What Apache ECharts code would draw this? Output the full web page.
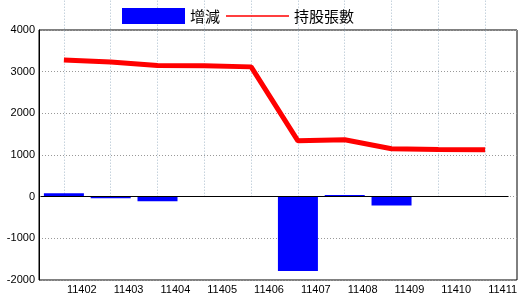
<!DOCTYPE html>
<html>
<head>
<meta charset="utf-8">
<script src="https://cdn.jsdelivr.net/npm/echarts@6/dist/echarts.min.js"></script>
<style>html,body{margin:0;padding:0;background:#fff;}#c{width:520px;height:300px;}</style>
</head>
<body>
<div id="c"></div>
<script>
const categories = ['11402','11403','11404','11405','11406','11407','11408','11409','11410','11411'];
const changeValues = [80, -40, -110, 0, 0, -1785, 40, -210, 0, 0];
const holdingValues = [3280, 3230, 3150, 3140, 3115, 1340, 1365, 1150, 1130, 1125];
const yTicks = { min: -2000, max: 4000, interval: 1000 };
const seriesNames = ['增減', '持股張數'];

const chart = echarts.init(document.getElementById('c'), null, { renderer: 'canvas' });
const fontLatin = 'Liberation Sans, Arial, sans-serif';
const fontCJK = '"Noto Sans CJK TC", "Noto Sans CJK SC", sans-serif';
const thinLineIcon = 'path://M0,0 L0.01,0 L0.01,0.01 Z M0,7.2 L63,7.2 L63,8.8 L0,8.8 Z M63,16 L62.99,16 L62.99,15.99 Z';

chart.setOption({
  animation: false,
  backgroundColor: '#fff',
  legend: {
    left: 122, top: 8, padding: 0,
    itemWidth: 63, itemHeight: 16, itemGap: 6,
    textStyle: { fontSize: 15, fontFamily: fontCJK, color: '#000' },
    data: [
      { name: seriesNames[0], icon: 'rect' },
      { name: seriesNames[1], icon: thinLineIcon, itemStyle: { color: '#ff0000' } }
    ]
  },
  grid: [
    { left: 40.5, right: 9.5, top: 30, bottom: 20, show: false },
    { left: 39, right: 3, top: 30, bottom: 20, show: true, borderColor: '#000', borderWidth: 1, backgroundColor: 'transparent' }
  ],
  xAxis: [
    {
      type: 'category', gridIndex: 0, data: categories, boundaryGap: true,
      axisLine: { show: false },
      axisTick: { show: true, alignWithLabel: true, inside: true, length: 250,
        lineStyle: { color: '#a8bccc', width: 1, type: [1, 2] } },
      splitLine: { show: false },
      axisLabel: { align: 'left', margin: 4, padding: [0,0,0,3], fontSize: 11, fontFamily: fontLatin, color: '#000', interval: 0 }
    },
    { type: 'value', gridIndex: 1, min: 0, max: 1, show: false }
  ],
  yAxis: [
    {
      type: 'value', gridIndex: 1, min: yTicks.min, max: yTicks.max, interval: yTicks.interval,
      axisLine: { show: true, lineStyle: { color: '#000' } },
      axisTick: { show: false },
      axisLabel: { margin: 4, fontSize: 11, fontFamily: fontLatin, color: '#000', formatter: v => String(v) },
      splitLine: { show: true, lineStyle: { color: '#999', width: 1, type: [1, 2] } }
    },
    { type: 'value', gridIndex: 0, min: yTicks.min, max: yTicks.max, interval: yTicks.interval, show: false,
      splitLine: { show: false } }
  ],
  series: [
    {
      name: seriesNames[0], type: 'bar', xAxisIndex: 0, yAxisIndex: 1,
      data: changeValues, barWidth: 40,
      itemStyle: { color: '#0000ff' },
      markLine: {
        silent: true, symbol: 'none', label: { show: false },
        lineStyle: { color: '#000', width: 1, type: 'solid' },
        data: [{ yAxis: 0 }]
      }
    },
    {
      name: seriesNames[1], type: 'line', xAxisIndex: 0, yAxisIndex: 1,
      data: holdingValues, symbol: 'none',
      lineStyle: { color: '#ff0000', width: 5 },
      itemStyle: { color: '#ff0000' }
    }
  ]
});
</script>
</body>
</html>
